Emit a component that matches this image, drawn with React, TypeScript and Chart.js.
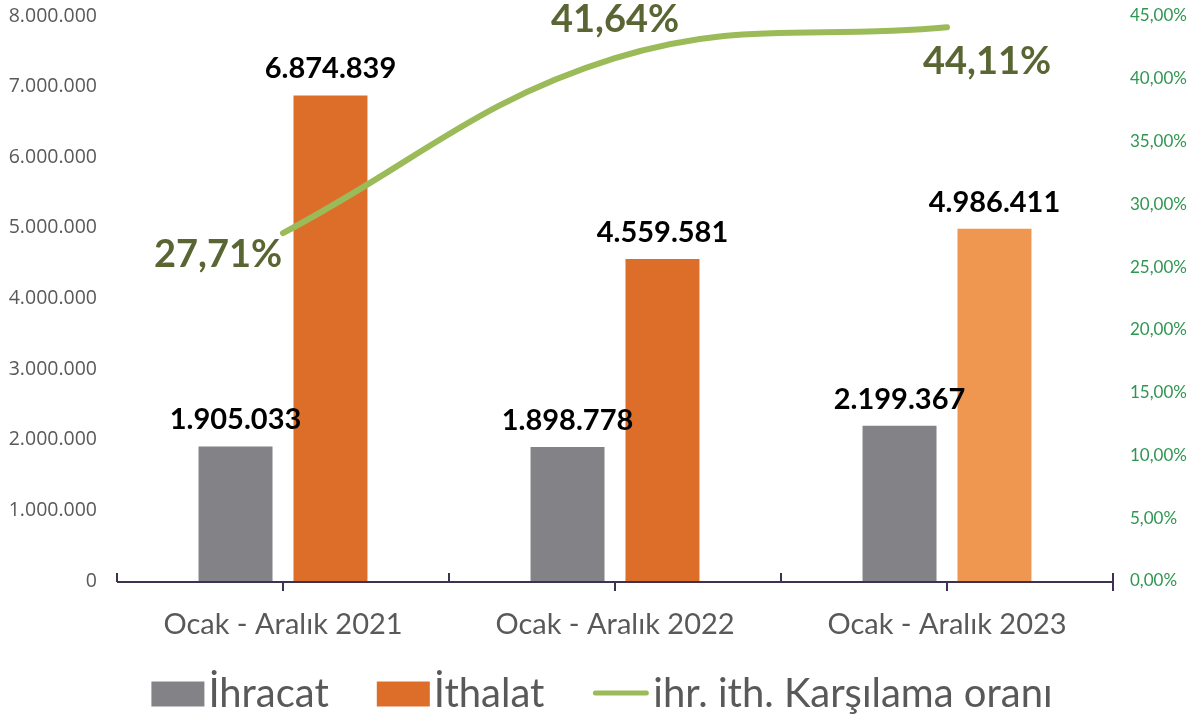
import React, { useEffect, useRef } from 'react';
import { Chart, registerables } from 'chart.js';

Chart.register(...registerables);

// ---- Data ----
const categories = ['Ocak - Aralık 2021', 'Ocak - Aralık 2022', 'Ocak - Aralık 2023'];
const ihracat = [1905033, 1898778, 2199367];
const ithalat = [6874839, 4559581, 4986411];
const oran = [27.71, 41.64, 44.11];
const seriesNames = ['İhracat', 'İthalat', 'ihr. ith. Karşılama oranı'];
const leftMax = 8000000;
const leftStep = 1000000;
const rightMax = 45;
const rightStep = 5;

// ---- Styles ----
const GRAY = '#838387';
const ORANGE = '#DD6E2A';
const ORANGE_LIGHT = '#EF9650';
const GREEN = '#9BBB59';
const OLIVE = '#5A6534';
const AXIS = '#3F3151';
const TEXT = '#595959';
const RIGHT_TICK = '#2E9650';
const FONT = 'Lato, "Open Sans", sans-serif';
const pctLabelOffsets = [
  [-65, 22],
  [0, -38],
  [40, 35],
];

const fmtDots = (n: number) => Math.round(n).toString().replace(/\B(?=(\d{3})+(?!\d))/g, '.');
const fmtPct = (v: number) => v.toFixed(2).replace('.', ',') + '%';

const labelPlugin = {
  id: 'valueLabels',
  afterDatasetsDraw(chart: any) {
    const ctx = chart.ctx;
    ctx.save();
    chart.data.datasets.forEach((ds: any, di: number) => {
      const meta = chart.getDatasetMeta(di);
      if (meta.type === 'bar') {
        ctx.font = `bold 29px ${FONT}`;
        ctx.fillStyle = '#000000';
        ctx.textAlign = 'center';
        ctx.textBaseline = 'alphabetic';
        meta.data.forEach((el: any, i: number) => {
          ctx.fillText(fmtDots(ds.data[i]), el.x, el.y - 17);
        });
      } else {
        ctx.font = `bold 38px ${FONT}`;
        ctx.fillStyle = OLIVE;
        ctx.textAlign = 'center';
        ctx.textBaseline = 'middle';
        meta.data.forEach((el: any, i: number) => {
          const [dx, dy] = pctLabelOffsets[i] || [0, -30];
          ctx.fillText(fmtPct(ds.data[i]), el.x + dx, el.y + dy);
        });
      }
    });
    ctx.restore();
  },
};

const axisPlugin = {
  id: 'axisLine',
  afterDatasetsDraw(chart: any) {
    const ctx = chart.ctx;
    const area = chart.chartArea;
    const xs = chart.scales.x;
    const y = area.bottom + 1;
    const n = categories.length;
    const step = (area.right - area.left) / n;
    ctx.save();
    ctx.strokeStyle = AXIS;
    ctx.lineWidth = 2;
    ctx.beginPath();
    ctx.moveTo(area.left, y);
    ctx.lineTo(area.right, y);
    for (let i = 0; i <= n; i++) {
      const x = Math.round(area.left + step * i);
      ctx.moveTo(x, y);
      ctx.lineTo(x, y - 9);
    }
    for (let i = 0; i < n; i++) {
      const x = Math.round(xs.getPixelForValue(i));
      ctx.moveTo(x, y);
      ctx.lineTo(x, y + 9);
    }
    ctx.moveTo(Math.round(area.right), y);
    ctx.lineTo(Math.round(area.right), y + 9);
    ctx.stroke();
    ctx.restore();
  },
};

const legendPlugin = {
  id: 'customLegend',
  afterDraw(chart: any) {
    const ctx = chart.ctx;
    ctx.save();
    ctx.font = `40px ${FONT}`;
    ctx.textBaseline = 'alphabetic';
    ctx.textAlign = 'left';
    const boxW = 53;
    const boxH = 25;
    const lineW = 57;
    const gapSym = 4;
    const gapItem = 48;
    const widths = seriesNames.map((s) => ctx.measureText(s).width);
    const symW = [boxW, boxW, lineW];
    let total = 0;
    widths.forEach((w, i) => {
      total += symW[i] + gapSym + w;
      if (i < widths.length - 1) total += gapItem;
    });
    let x = 602 - total / 2;
    const cy = 694;
    const baseline = 707;
    const colors = [GRAY, ORANGE, GREEN];
    seriesNames.forEach((s, i) => {
      if (i < 2) {
        ctx.fillStyle = colors[i];
        ctx.fillRect(x, cy - boxH / 2, boxW, boxH);
      } else {
        ctx.strokeStyle = GREEN;
        ctx.lineWidth = 5;
        ctx.lineCap = 'round';
        ctx.beginPath();
        ctx.moveTo(x + 3, cy - 1);
        ctx.lineTo(x + lineW - 3, cy - 1);
        ctx.stroke();
      }
      x += symW[i] + gapSym;
      ctx.fillStyle = TEXT;
      ctx.fillText(s, x, baseline);
      x += widths[i] + gapItem;
    });
    ctx.restore();
  },
};

const noVPad = (scale: any) => {
  scale.paddingTop = 0;
  scale.paddingBottom = 0;
};

export default function App() {
  const ref = useRef<HTMLCanvasElement>(null);
  useEffect(() => {
    document.body.style.margin = '0';
    const chart = new Chart(ref.current as HTMLCanvasElement, {
      type: 'bar',
      data: {
        labels: categories,
        datasets: [
          {
            type: 'line',
            label: seriesNames[2],
            data: oran,
            yAxisID: 'y1',
            borderColor: GREEN,
            backgroundColor: GREEN,
            borderWidth: 6,
            borderCapStyle: 'round',
            pointRadius: 0,
            tension: 0.4,
            order: 0,
          } as any,
          {
            type: 'bar',
            label: seriesNames[0],
            data: ihracat,
            yAxisID: 'y',
            backgroundColor: GRAY,
            categoryPercentage: 0.572,
            barPercentage: 0.779,
            order: 1,
          },
          {
            type: 'bar',
            label: seriesNames[1],
            data: ithalat,
            yAxisID: 'y',
            backgroundColor: [ORANGE, ORANGE, ORANGE_LIGHT],
            categoryPercentage: 0.572,
            barPercentage: 0.779,
            order: 1,
          },
        ],
      },
      options: {
        animation: false,
        responsive: false,
        maintainAspectRatio: false,
        layout: { padding: { top: 16, left: 0, right: 0, bottom: 0 } },
        plugins: {
          legend: { display: false },
          tooltip: { enabled: false },
        },
        scales: {
          x: {
            grid: { display: false },
            border: { display: false },
            ticks: {
              color: TEXT,
              font: { family: FONT, size: 29 },
              padding: 18,
              maxRotation: 0,
            },
            afterFit(scale: any) {
              scale.height = 135;
            },
          },
          y: {
            position: 'left',
            min: 0,
            max: leftMax,
            grid: { display: false },
            border: { display: false },
            ticks: {
              stepSize: leftStep,
              color: TEXT,
              font: { family: '"Open Sans", sans-serif', size: 19.5 },
              padding: 12,
              callback: (v: any) => fmtDots(Number(v)),
            },
            afterFit(scale: any) {
              scale.width = 117;
              noVPad(scale);
            },
          },
          y1: {
            position: 'right',
            min: 0,
            max: rightMax,
            grid: { display: false },
            border: { display: false },
            ticks: {
              stepSize: rightStep,
              color: RIGHT_TICK,
              font: { family: FONT, size: 17 },
              padding: 9,
              callback: (v: any) => fmtPct(Number(v)),
            },
            afterFit(scale: any) {
              scale.width = 79;
              noVPad(scale);
            },
          },
        },
      } as any,
      plugins: [axisPlugin, labelPlugin, legendPlugin],
    });
    return () => chart.destroy();
  }, []);
  return (
    <div style={{ position: 'fixed', left: 0, top: 0, width: 1192, height: 716, background: '#ffffff' }}>
      <canvas ref={ref} width={1192} height={716} style={{ display: 'block', width: 1192, height: 716 }} />
    </div>
  );
}
